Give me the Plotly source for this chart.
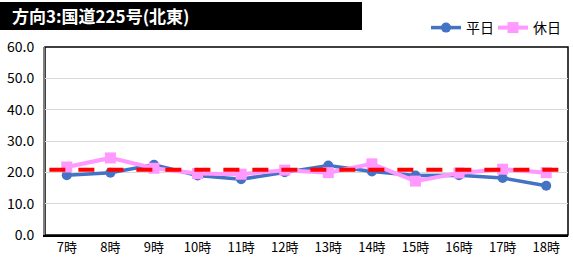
import plotly.graph_objects as go

categories = ["7時", "8時", "9時", "10時", "11時", "12時", "13時", "14時", "15時", "16時", "17時", "18時"]
weekday = [19.1, 19.9, 22.4, 19.0, 17.8, 20.0, 22.2, 20.3, 19.0, 19.1, 18.2, 15.7]
holiday = [21.7, 24.6, 21.3, 19.6, 19.4, 20.7, 19.9, 22.7, 17.2, 19.8, 21.0, 19.9]
average = 20.8
y_ticks = [0, 10, 20, 30, 40, 50, 60]
title_text = "方向3:国道225号(北東)"

font = "Noto Sans CJK JP"
L, R, T, B = 45, 5, 47, 25
W, H = 573, 260
PW, PH = W - L - R, H - T - B

fig = go.Figure()
fig.add_trace(go.Scatter(
    x=categories, y=weekday, name="平日", mode="lines+markers",
    line=dict(color="#4472C4", width=3.5),
    marker=dict(symbol="circle", size=10, color="#4472C4"),
))
fig.add_trace(go.Scatter(
    x=categories, y=holiday, name="休日", mode="lines+markers",
    line=dict(color="#FF99FF", width=4),
    marker=dict(symbol="square", size=11, color="#FF99FF"),
))

fig.update_layout(
    width=W, height=H,
    margin=dict(l=L, r=R, t=T, b=B, autoexpand=False),
    paper_bgcolor="white", plot_bgcolor="white",
    font=dict(family=font, size=13, color="black"),
    showlegend=True,
    legend=dict(orientation="h", x=(426 - L) / PW, xanchor="left",
                y=(H - B - 28) / PH, yanchor="middle",
                font=dict(size=14), bgcolor="rgba(0,0,0,0)",
                entrywidth=22, entrywidthmode="pixels"),
)
fig.add_shape(type="line", xref="x", yref="y", x0=-0.4, x1=11.4, y0=average, y1=average,
              line=dict(color="#FF0000", width=4, dash="16px,13px"), layer="above")
fig.add_shape(type="rect", xref="paper", yref="paper", x0=0, x1=1, y0=0, y1=1,
              line=dict(color="black", width=1.5), layer="below")
fig.add_shape(type="rect", xref="paper", yref="paper",
              x0=-L / PW, x1=(362 - L) / PW,
              y0=(H - B - 30) / PH, y1=(H - B - 2) / PH,
              fillcolor="black", line=dict(width=0), layer="below")
fig.add_annotation(
    xref="paper", yref="paper", x=(10 - L) / PW, y=(H - B - 16) / PH,
    xanchor="left", yanchor="middle",
    text="<b>" + title_text + "</b>", showarrow=False,
    font=dict(family=font, size=17, color="white"),
)
fig.update_xaxes(
    type="category", range=[-0.5, 11.5], showgrid=False, showline=True,
    linecolor="black", linewidth=1.5, ticks="", tickfont=dict(size=13),
    automargin=False,
)
fig.update_yaxes(
    range=[0, 60], tickvals=y_ticks, ticktext=[f"{v:.1f}" for v in y_ticks],
    showgrid=True, gridcolor="#D9D9D9", gridwidth=1, showline=True,
    linecolor="#808080", linewidth=2, ticks="", zeroline=False,
    tickfont=dict(size=14), ticklabelstandoff=6, automargin=False,
)
fig.write_html("out.html", config={"displayModeBar": False},
               post_script="document.body.style.margin='0';document.body.style.overflow='hidden';")
